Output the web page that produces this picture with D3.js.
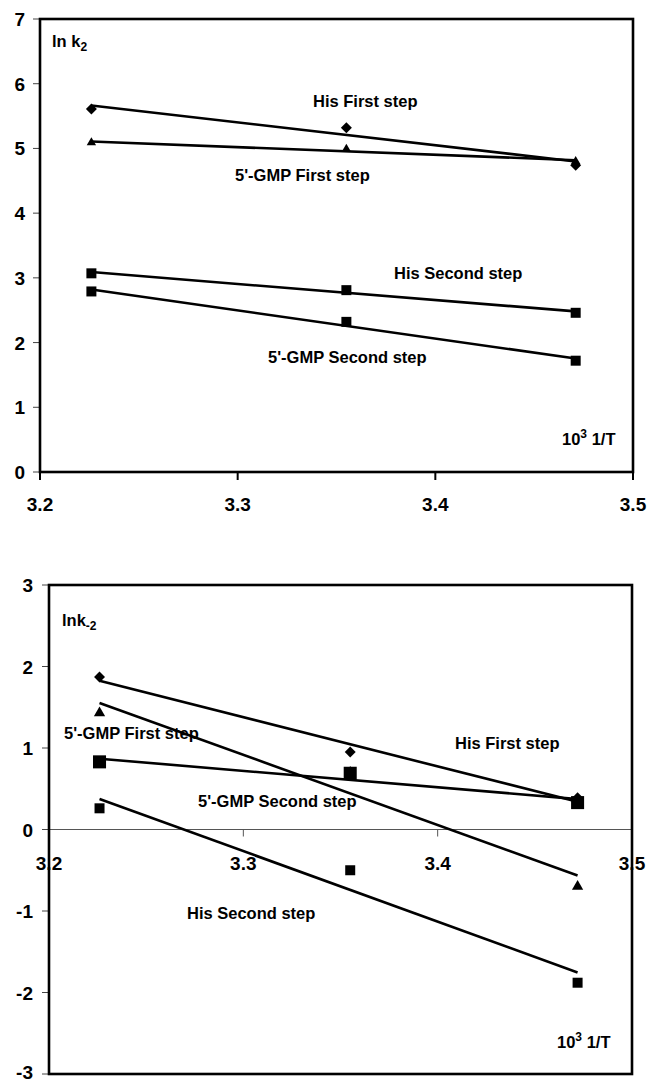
<!DOCTYPE html>
<html>
<head>
<meta charset="utf-8">
<script src="https://cdn.jsdelivr.net/npm/d3@7"></script>
<style>
  body { margin: 0; background: #fff; }
  text { font-family: "Liberation Sans", Arial, sans-serif; font-weight: bold; fill: #000; }
</style>
</head>
<body>
<div id="svg_container"></div>
<script>
// x values (10^3 / T) and ln k series
const xTicks = [3.2, 3.3, 3.4, 3.5];

// top panel: ln k2
const topX = [3.226, 3.355, 3.471];
const topHisFirst = [5.61, 5.32, 4.74];
const topGmpFirst = [5.09, 4.99, 4.80];
const topHisSecond = [3.07, 2.81, 2.46];
const topGmpSecond = [2.79, 2.32, 1.72];
const topYTicks = [0, 1, 2, 3, 4, 5, 6, 7];

// bottom panel: ln k-2
const botX = [3.226, 3.355, 3.472];
const botHisFirst = [1.87, 0.95, 0.39];
const botGmpFirst = [1.43, 0.70, -0.70];
const botGmpSecond = [0.83, 0.69, 0.33];
const botHisSecond = [0.26, -0.50, -1.88];
const botYTicks = [-3, -2, -1, 0, 1, 2, 3];

const W = 651, H = 1082;

const svg = d3.select("#svg_container")
    .append("svg")
    .attr("width", W)
    .attr("height", H);

// least squares line, like the spreadsheet trendline
function fit(xs, ys) {
    const mx = d3.mean(xs), my = d3.mean(ys);
    let sxy = 0, sxx = 0;
    xs.forEach((x, i) => { sxy += (x - mx) * (ys[i] - my); sxx += (x - mx) * (x - mx); });
    const b = sxy / sxx;
    const x0 = d3.min(xs), x1 = d3.max(xs);
    return [[x0, my + b * (x0 - mx)], [x1, my + b * (x1 - mx)]];
}

function drawMarkers(g, x, y, xs, ys, type, size, rotate) {
    g.append("g")
        .selectAll("path")
        .data(xs.map((d, i) => [d, ys[i]]))
        .enter()
        .append("path")
        .attr("d", d3.symbol().type(type).size(size))
        .attr("transform", d => `translate(${x(d[0])},${y(d[1])})` + (rotate ? " rotate(45)" : ""))
        .attr("fill", "#000");
}

function drawTrend(g, x, y, xs, ys) {
    const line = d3.line().x(d => x(d[0])).y(d => y(d[1]));
    g.append("path")
        .datum(fit(xs, ys))
        .attr("d", line)
        .attr("fill", "none")
        .attr("stroke", "#000")
        .attr("stroke-width", 2.6);
}

function label(g, px, py, parts, size) {
    const t = g.append("text").attr("x", px).attr("y", py).attr("font-size", size || 16.5);
    parts.forEach(p => {
        const s = t.append("tspan").text(p.t);
        if (p.sub) s.attr("font-size", 12).attr("dy", 4);
        if (p.sup) s.attr("font-size", 12).attr("dy", -7);
        if (p.back) s.attr("dy", p.back);
    });
    return t;
}

// ---------- top panel ----------
{
    const x = d3.scaleLinear().domain([3.2, 3.5]).range([40, 633]);
    const y = d3.scaleLinear().domain([0, 7]).range([472, 19]);
    const g = svg.append("g");

    // y ticks (thin, outside)
    g.append("g").selectAll("line").data(topYTicks).enter().append("line")
        .attr("x1", 33).attr("x2", 40)
        .attr("y1", d => y(d)).attr("y2", d => y(d))
        .attr("stroke", "#444").attr("stroke-width", 1);
    g.append("g").selectAll("text").data(topYTicks).enter().append("text")
        .attr("x", 25).attr("y", d => y(d) + 7)
        .attr("text-anchor", "end").attr("font-size", 19)
        .text(d => d);

    // x ticks
    g.append("g").selectAll("line").data(xTicks).enter().append("line")
        .attr("x1", d => x(d)).attr("x2", d => x(d))
        .attr("y1", 472).attr("y2", 480)
        .attr("stroke", "#000").attr("stroke-width", 2);
    g.append("g").selectAll("text").data(xTicks).enter().append("text")
        .attr("x", d => x(d)).attr("y", 511)
        .attr("text-anchor", "middle").attr("font-size", 19)
        .text(d => d3.format(".1f")(d));

    g.append("rect")
        .attr("x", 40).attr("y", 19).attr("width", 593).attr("height", 453)
        .attr("fill", "none").attr("stroke", "#000").attr("stroke-width", 2.6);

    drawMarkers(g, x, y, topX, topGmpFirst, d3.symbolTriangle, 38);
    drawMarkers(g, x, y, topX, topHisFirst, d3.symbolSquare, 60, true);
    drawMarkers(g, x, y, topX, topHisSecond, d3.symbolSquare, 100);
    drawMarkers(g, x, y, topX, topGmpSecond, d3.symbolSquare, 100);

    drawTrend(g, x, y, topX, topHisFirst);
    drawTrend(g, x, y, topX, topGmpFirst);
    drawTrend(g, x, y, topX, topHisSecond);
    drawTrend(g, x, y, topX, topGmpSecond);

    label(g, 52, 47, [{ t: "ln k" }, { t: "2", sub: true }]);
    label(g, 313, 107, [{ t: "His First step" }]);
    label(g, 235, 181, [{ t: "5'-GMP First step" }]);
    label(g, 394, 279, [{ t: "His Second step" }]);
    label(g, 268, 363, [{ t: "5'-GMP Second step" }]);
    label(g, 562, 445, [{ t: "10" }, { t: "3", sup: true }, { t: " 1/T", back: 7 }]);
}

// ---------- bottom panel ----------
{
    const x = d3.scaleLinear().domain([3.2, 3.5]).range([49, 632]);
    const y = d3.scaleLinear().domain([-3, 3]).range([1074, 585]);
    const g = svg.append("g");

    g.append("g").selectAll("line").data(botYTicks).enter().append("line")
        .attr("x1", 42).attr("x2", 49)
        .attr("y1", d => y(d)).attr("y2", d => y(d))
        .attr("stroke", "#444").attr("stroke-width", 1);
    g.append("g").selectAll("text").data(botYTicks).enter().append("text")
        .attr("x", 33).attr("y", d => Math.min(y(d) + 7, 1079))
        .attr("text-anchor", "end").attr("font-size", 19)
        .text(d => d);

    // x axis crossing at y = 0
    g.append("line")
        .attr("x1", 49).attr("x2", 632)
        .attr("y1", y(0)).attr("y2", y(0))
        .attr("stroke", "#555").attr("stroke-width", 1);
    g.append("g").selectAll("line").data(xTicks).enter().append("line")
        .attr("x1", d => x(d)).attr("x2", d => x(d))
        .attr("y1", y(0)).attr("y2", y(0) + 7)
        .attr("stroke", "#555").attr("stroke-width", 1);
    g.append("g").selectAll("text").data(xTicks).enter().append("text")
        .attr("x", d => x(d)).attr("y", y(0) + 40)
        .attr("text-anchor", "middle").attr("font-size", 19)
        .text(d => d3.format(".1f")(d));

    g.append("rect")
        .attr("x", 49).attr("y", 585).attr("width", 583).attr("height", 489)
        .attr("fill", "none").attr("stroke", "#000").attr("stroke-width", 2.6);

    drawMarkers(g, x, y, botX, botHisFirst, d3.symbolSquare, 60, true);
    drawMarkers(g, x, y, botX, botGmpFirst, d3.symbolTriangle, 55);
    drawMarkers(g, x, y, botX, botGmpSecond, d3.symbolSquare, 170);
    drawMarkers(g, x, y, botX, botHisSecond, d3.symbolSquare, 100);

    drawTrend(g, x, y, botX, botHisFirst);
    drawTrend(g, x, y, botX, botGmpFirst);
    drawTrend(g, x, y, botX, botGmpSecond);
    drawTrend(g, x, y, botX, botHisSecond);

    label(g, 62, 626, [{ t: "lnk" }, { t: "-2", sub: true }]);
    label(g, 64, 739, [{ t: "5'-GMP First step" }]);
    label(g, 455, 749, [{ t: "His First step" }]);
    label(g, 198, 807, [{ t: "5'-GMP Second step" }]);
    label(g, 187, 919, [{ t: "His Second step" }]);
    label(g, 557, 1048, [{ t: "10" }, { t: "3", sup: true }, { t: " 1/T", back: 7 }]);
}
</script>
</body>
</html>
